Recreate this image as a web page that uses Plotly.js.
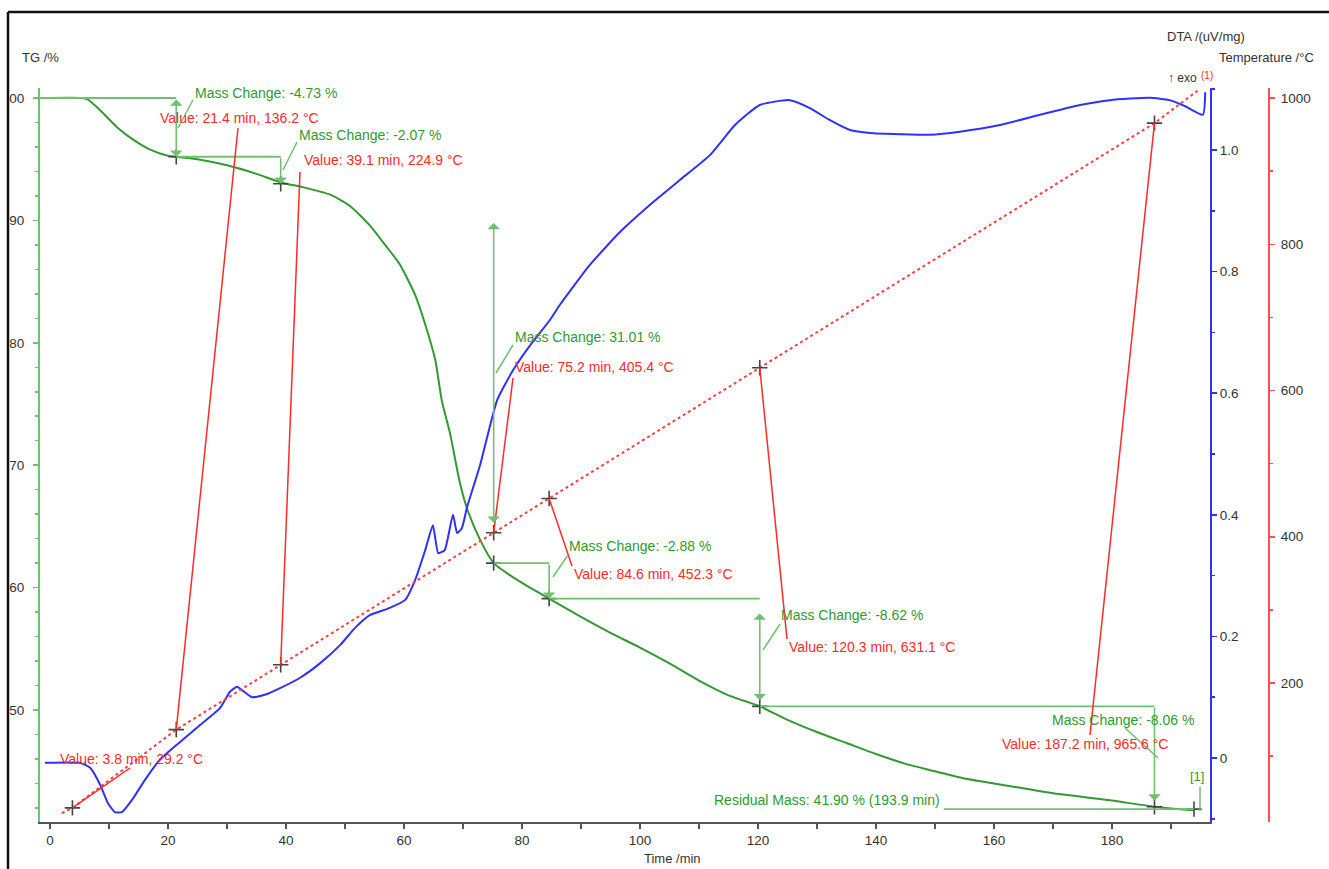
<!DOCTYPE html>
<html>
<head>
<meta charset="utf-8">
<script src="https://cdn.plot.ly/plotly-3.0.1.min.js"></script>
<style>html,body{margin:0;padding:0;background:#fff}#chart{width:1329px;height:869px}</style>
</head>
<body>
<div id="chart"></div>
<script>
// ---------- DATA ----------
const timeTG = [-1.7, 5.5, 6.3, 8.5, 11.4, 14.1, 16.9, 19.8, 21.4, 25, 30, 35, 39.1, 43, 47.5, 50.8, 54.2, 56.8, 59.3, 61.9, 63.6, 65.3, 66.4, 67.8, 69.5, 70.8, 72.9, 75.2, 78, 81, 84.6, 90, 95, 100, 105, 110, 115, 120.3, 125, 130, 135, 140, 145, 150, 155, 160, 165, 170, 175, 180, 187.2, 193.9];
const tgValues = [100, 100, 99.9, 99.0, 97.6, 96.6, 95.8, 95.3, 95.2, 95.0, 94.5, 93.8, 93.1, 92.7, 92.1, 91.2, 89.6, 88.0, 86.4, 83.9, 81.5, 78.6, 75.3, 72.6, 68.5, 66.3, 63.9, 62.0, 61.0, 60.1, 59.1, 57.6, 56.3, 55.1, 53.8, 52.4, 51.2, 50.3, 49.2, 48.2, 47.3, 46.4, 45.6, 45.0, 44.4, 44.0, 43.6, 43.2, 42.9, 42.6, 42.1, 41.8];

const timeDTA = [-0.85, 5.1, 6.8, 8.5, 9.8, 11.0, 12.2, 13.9, 16.1, 18.6, 22.0, 25.4, 28.8, 30.5, 31.7, 32.9, 34.2, 36.4, 39.0, 42.4, 45.8, 49.2, 51.7, 54.2, 57.6, 60.2, 61.9, 63.6, 64.9, 65.8, 66.9, 68.3, 69.0, 69.8, 70.7, 72.9, 75.8, 78.5, 81.4, 84.7, 86.4, 91.5, 96.6, 101.7, 106.8, 111.9, 116.1, 120.3, 125.4, 128.8, 132.2, 135.6, 139.0, 144.1, 149.2, 154.2, 161.0, 167.8, 174.6, 179.7, 186.4, 189.8, 192.4, 195.4, 195.8];
const dtaValues = [-0.008, -0.008, -0.016, -0.044, -0.074, -0.089, -0.089, -0.069, -0.036, -0.003, 0.026, 0.054, 0.082, 0.109, 0.117, 0.109, 0.100, 0.104, 0.115, 0.132, 0.156, 0.186, 0.214, 0.235, 0.247, 0.260, 0.293, 0.342, 0.383, 0.337, 0.342, 0.400, 0.370, 0.378, 0.413, 0.482, 0.589, 0.638, 0.679, 0.720, 0.745, 0.811, 0.865, 0.910, 0.951, 0.992, 1.041, 1.074, 1.082, 1.069, 1.049, 1.033, 1.028, 1.026, 1.025, 1.030, 1.041, 1.058, 1.074, 1.082, 1.086, 1.082, 1.072, 1.058, 1.095];

const timeTemp = [2.0, 3.8, 21.4, 39.1, 75.2, 84.6, 120.3, 187.2, 194.5];
const tempValues = [22, 29.2, 136.2, 224.9, 405.4, 452.3, 631.1, 965.6, 1010];

const eventTimes = [3.8, 21.4, 39.1, 75.2, 84.6, 120.3, 187.2];
const eventTemps = [29.2, 136.2, 224.9, 405.4, 452.3, 631.1, 965.6];

const stepTimes = [21.4, 39.1, 75.2, 84.6, 120.3, 187.2, 193.9];
const stepTG = [95.2, 93.0, 62.0, 59.1, 50.3, 42.1, 41.9];
const massChanges = ['-4.73', '-2.07', '31.01', '-2.88', '-8.62', '-8.06'];
const residualMass = '41.90';
const residualTime = '193.9';

const xTickVals = [0, 20, 40, 60, 80, 100, 120, 140, 160, 180];
const tgTickVals = [50, 60, 70, 80, 90, 100];
const dtaTickVals = [0, 0.2, 0.4, 0.6, 0.8, 1.0];
const dtaTickText = ['0', '0.2', '0.4', '0.6', '0.8', '1.0'];
const tempTickVals = [200, 400, 600, 800, 1000];

// ---------- GEOMETRY (pixel layout helpers) ----------
const W = 1329, H = 869;
const PLOT_L = 40, PLOT_R = 1210, PLOT_T = 88, PLOT_B = 822;
const X0PX = 50, XPX = 5.9;          // time axis: px = 50 + 5.9 t
const TG_PX = 12.24;                 // px per %
const T_PX = 0.73125;                // px per degC
const DTA_PX = 608;                  // px per unit
const pX = px => px / W;
const pY = py => 1 - py / H;
const pxT = t => X0PX + XPX * t;
const pyTemp = T => 98 + (1000 - T) * T_PX;

const xRange = [(PLOT_L - X0PX) / XPX, (PLOT_R - X0PX) / XPX];
const tgRange = [100 - (PLOT_B - 98) / TG_PX, 100 - (PLOT_T - 98) / TG_PX];
const dtaRange = [1 - (PLOT_B - 150) / DTA_PX, 1 - (PLOT_T - 150) / DTA_PX];
const tempRange = [1000 - (PLOT_B - 98) / T_PX, 1000 - (PLOT_T - 98) / T_PX];

const FONT = 'Liberation Sans, Arial, sans-serif';
const GREEN = '#2f9a2f', GREEN_AX = '#70c070', BLUE = '#3030ff', RED = '#ff2a2a', DARK = '#333';

// ---------- TRACES ----------
const traces = [
  {x: timeTemp, y: tempValues, yaxis: 'y3', mode: 'lines',
   line: {color: '#ff4040', width: 2, dash: 'dot'}},
  {x: timeTG, y: tgValues, yaxis: 'y', mode: 'lines',
   line: {color: '#339933', width: 2, shape: 'spline', smoothing: 0.6}},
  {x: timeDTA, y: dtaValues, yaxis: 'y2', mode: 'lines',
   line: {color: BLUE, width: 2, shape: 'spline', smoothing: 0.5}},
  {x: eventTimes, y: eventTemps, yaxis: 'y3', mode: 'markers',
   marker: {symbol: 'cross-thin', size: 11, line: {color: '#444', width: 1.6}}},
  {x: stepTimes, y: stepTG, yaxis: 'y', mode: 'markers',
   marker: {symbol: 'cross-thin', size: 11, line: {color: '#444', width: 1.6}}}
];

// ---------- SHAPES ----------
const shapes = [];
function pline(x0, y0, x1, y1, color, width) {
  shapes.push({type: 'line', xref: 'paper', yref: 'paper', x0: pX(x0), y0: pY(y0), x1: pX(x1), y1: pY(y1),
    line: {color: color, width: width || 1.5}, layer: 'above'});
}
function dline(x0, y0, x1, y1, color) {
  shapes.push({type: 'line', xref: 'x', yref: 'y', x0: x0, y0: y0, x1: x1, y1: y1,
    line: {color: color, width: 1.8}, layer: 'above'});
}
// green reference levels
dline(xRange[0], 100, stepTimes[0], 100, GREEN_AX);
dline(stepTimes[0], stepTG[0], stepTimes[1], stepTG[0], GREEN_AX);
dline(stepTimes[2], stepTG[2], stepTimes[3], stepTG[2], GREEN_AX);
dline(stepTimes[3], stepTG[3], stepTimes[4], stepTG[3], GREEN_AX);
dline(stepTimes[4], stepTG[4], stepTimes[5], stepTG[4], GREEN_AX);
dline(151.5, +residualMass, +residualTime, +residualMass, GREEN_AX);

// red leader lines: temperature cross -> value label
const valueLabelPos = [[58, 759], [158, 118], [302, 160], [513, 367], [572, 574], [787, 647], [1000, 744]];
const valueLeaderEnd = [[130, 768], [238, 128], [300, 172], [513, 378], [572, 566], [787, 639], [1090, 735]];
eventTimes.forEach((t, i) => {
  pline(pxT(t), pyTemp(eventTemps[i]), valueLeaderEnd[i][0], valueLeaderEnd[i][1], RED, 1.5);
});

// green leader lines: arrow -> mass label
const massLabelPos = [[193, 93], [297, 135], [513, 337], [567, 546], [779, 615], [1050, 720]];
const massLeaders = [[178, 128, 193, 100], [283, 170, 297, 142], [496, 373, 513, 345], [553, 577, 568, 555], [763, 650, 780, 624], [1158, 758, 1125, 728]];
massLeaders.forEach(l => pline(l[0], l[1], l[2], l[3], GREEN_AX, 1.5));
pline(1200, 787, 1200, 811, GREEN_AX, 1.5);

// frame
shapes.push({type: 'rect', xref: 'paper', yref: 'paper', x0: 0, x1: pX(8), y0: 0, y1: 1, fillcolor: '#fff', line: {width: 0}, layer: 'above'});
pline(8, 12, W, 12, '#111', 2.5);
pline(8, 12, 8, H, '#111', 2.5);

// ---------- ANNOTATIONS ----------
const annotations = [];
function txt(x, y, text, color, size) {
  annotations.push({xref: 'paper', yref: 'paper', x: pX(x), y: pY(y), text: text, showarrow: false,
    xanchor: 'left', yanchor: 'middle', font: {family: FONT, size: size || 14, color: color}});
}
function arrow(t, yFrom, yTo, both) {
  annotations.push({xref: 'x', yref: 'y', axref: 'x', ayref: 'y', x: t, y: yTo, ax: t, ay: yFrom, text: '',
    showarrow: true, arrowhead: 1, startarrowhead: 1, arrowside: both ? 'end+start' : 'end',
    arrowsize: 1.3, startarrowsize: 1.3, arrowwidth: 1.6, arrowcolor: GREEN_AX});
}
arrow(stepTimes[0], 100, stepTG[0], true);
arrow(stepTimes[1], stepTG[0], stepTG[1], false);
arrow(stepTimes[2], 89.9, 65.3, true);
arrow(stepTimes[3], stepTG[2], stepTG[3], false);
arrow(stepTimes[4], 58.0, 50.8, true);
arrow(stepTimes[5], stepTG[4], 42.6, false);

eventTimes.forEach((t, i) => {
  txt(valueLabelPos[i][0], valueLabelPos[i][1],
    'Value: ' + t.toFixed(1) + ' min, ' + eventTemps[i].toFixed(1) + ' °C', RED);
});
massChanges.forEach((m, i) => {
  txt(massLabelPos[i][0], massLabelPos[i][1], 'Mass Change: ' + m + ' %', GREEN);
});
txt(712, 800, 'Residual Mass: ' + residualMass + ' % (' + residualTime + ' min)', GREEN);
txt(1188, 776, '[1]', GREEN, 13);

// axis titles
txt(20, 57, 'TG /%', DARK, 13);
txt(1165, 37, 'DTA /(uV/mg)', DARK, 13);
txt(1217, 58, 'Temperature /°C', DARK, 13);
txt(642, 858, 'Time /min', DARK, 13);
txt(1166, 78, '↑ exo', DARK, 12);
txt(1199, 75, '(1)', RED, 10);

// ---------- LAYOUT ----------
const domY = [pY(PLOT_B), pY(PLOT_T)];
const TICKFONT = {family: FONT, size: 13.5, color: DARK};
const layout = {
  width: W, height: H,
  margin: {l: 0, r: 0, t: 0, b: 0, pad: 0},
  paper_bgcolor: '#fff', plot_bgcolor: 'rgba(0,0,0,0)',
  showlegend: false,
  font: {family: FONT, size: 13, color: DARK},
  xaxis: {
    domain: [pX(PLOT_L), pX(PLOT_R)], range: xRange, showgrid: false, zeroline: false,
    showline: true, linecolor: '#555', linewidth: 2,
    ticks: 'outside', ticklen: 5, tickwidth: 1.5, tickcolor: '#555',
    tickvals: xTickVals, tickfont: TICKFONT,
    minor: {dtick: 10, tick0: 0, ticks: 'outside', ticklen: 5, tickcolor: '#555', tickwidth: 1.5}
  },
  yaxis: {
    domain: domY, range: tgRange, showgrid: false, zeroline: false,
    showline: true, linecolor: GREEN_AX, linewidth: 2,
    ticks: 'outside', ticklen: 5, tickwidth: 1.5, tickcolor: GREEN_AX,
    tickvals: tgTickVals, tickfont: TICKFONT, ticklabelstandoff: 6,
    minor: {dtick: 2, tick0: 0, ticks: 'outside', ticklen: 3, tickcolor: GREEN_AX, tickwidth: 1.5}
  },
  yaxis2: {
    domain: domY, range: dtaRange, overlaying: 'y', side: 'right', anchor: 'x',
    showgrid: false, zeroline: false, showline: true, linecolor: BLUE, linewidth: 2,
    ticks: 'outside', ticklen: 5, tickwidth: 1.5, tickcolor: BLUE,
    tickvals: dtaTickVals, ticktext: dtaTickText, tickfont: TICKFONT,
    minor: {dtick: 0.1, tick0: 0, ticks: 'outside', ticklen: 3, tickcolor: BLUE, tickwidth: 1.5}
  },
  yaxis3: {
    domain: domY, range: tempRange, overlaying: 'y', side: 'right', anchor: 'free', position: pX(1269),
    showgrid: false, zeroline: false, showline: true, linecolor: '#ff5050', linewidth: 2,
    ticks: 'outside', ticklen: 5, tickwidth: 1.5, tickcolor: '#ff5050',
    tickvals: tempTickVals, tickfont: TICKFONT, ticklabelstandoff: 3,
    minor: {dtick: 100, tick0: 0, ticks: 'outside', ticklen: 3, tickcolor: '#ff5050', tickwidth: 1.5}
  },
  shapes: shapes,
  annotations: annotations
};

Plotly.newPlot('chart', traces, layout, {staticPlot: true, displayModeBar: false});
</script>
</body>
</html>
